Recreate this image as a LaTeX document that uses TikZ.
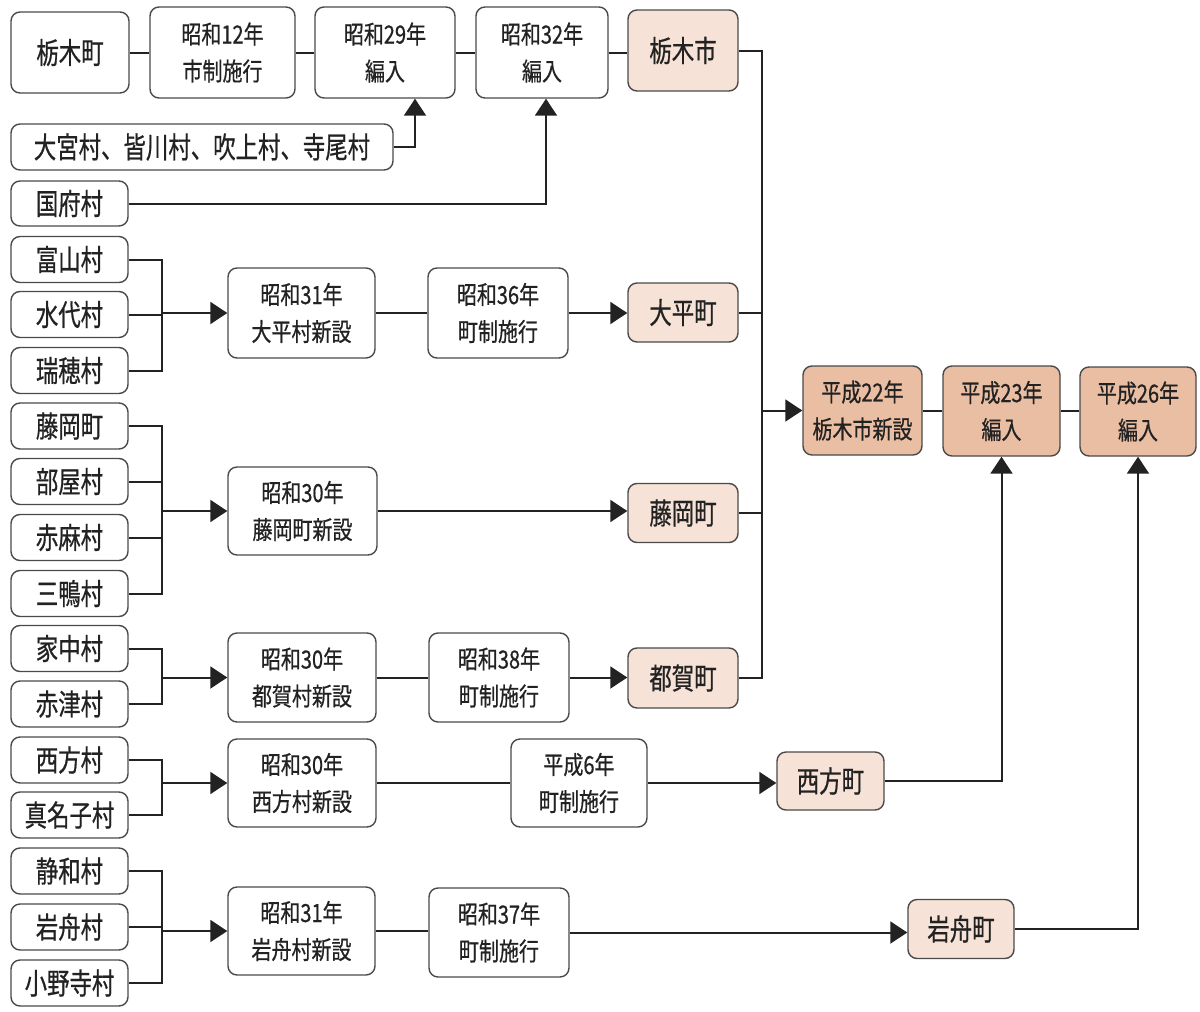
\documentclass[tikz,border=0pt]{standalone}
\usepackage{fontspec}
\newfontfamily\jpa[FakeStretch=0.76,FakeBold=0.6]{Noto Sans CJK JP}
\newfontfamily\jpb[FakeStretch=0.8,FakeBold=0.6]{Noto Sans CJK JP}
\usetikzlibrary{arrows.meta}
\definecolor{lightpk}{HTML}{F6E2D6}
\definecolor{darkpk}{HTML}{E9BEA3}
\definecolor{edge}{HTML}{4A4A4A}
\definecolor{ink}{HTML}{222222}
\begin{document}
\begin{tikzpicture}[x=1pt,y=-1pt,
 base/.style={draw=edge, line width=1.4pt, rounded corners=9pt, text=ink, inner sep=0pt, align=center},
 one/.style={base, font={\jpa\fontsize{29.5}{32}\selectfont}},
 two/.style={base, font={\jpb\fontsize{25}{37}\selectfont}},
 wbox/.style={fill=white},
 lbox/.style={fill=lightpk},
 dbox/.style={fill=darkpk},
 vil/.style={one, wbox, minimum width=117pt, minimum height=46pt},
 con/.style={draw=ink, line width=2pt},
 arr/.style={con, -{Triangle[length=17pt,width=22pt]}},
 sz/.style 2 args={minimum width=#1pt, minimum height=#2pt},
]
\useasboundingbox (0,0) rectangle (1200,1012);
% top row
\node[one,wbox,sz={118}{81}] (a1) at (70,52.5) {栃木町};
\node[two,wbox,sz={145}{91}] (b1) at (222.5,52.5) {昭和12年\\市制施行};
\node[two,wbox,sz={140}{91}] (b2) at (385,52.5) {昭和29年\\編入};
\node[two,wbox,sz={132}{91}] (b3) at (542,52.5) {昭和32年\\編入};
\node[one,lbox,sz={110}{81}] (r1) at (683,50.5) {栃木市};
\node[one,wbox,sz={382}{46}] (o1) at (202,147) {大宮村、皆川村、吹上村、寺尾村};
\node[one,wbox,sz={117}{45}] (o2) at (69.5,203.5) {国府村};
% villages
\node[vil] (t1) at (69.5,259.5) {富山村};
\node[vil] (t2) at (69.5,314.5) {水代村};
\node[vil] (t3) at (69.5,370.5) {瑞穂村};
\node[vil] (f1) at (69.5,426) {藤岡町};
\node[vil] (f2) at (69.5,481.5) {部屋村};
\node[vil] (f3) at (69.5,537.5) {赤麻村};
\node[vil] (f4) at (69.5,593.5) {三鴨村};
\node[vil] (g1) at (69.5,648.5) {家中村};
\node[vil] (g2) at (69.5,704) {赤津村};
\node[vil] (n1) at (69.5,760) {西方村};
\node[vil] (n2) at (69.5,815) {真名子村};
\node[vil] (i1) at (69.5,871) {静和村};
\node[vil] (i2) at (69.5,927) {岩舟村};
\node[vil] (i3) at (69.5,983) {小野寺村};
% chains
\node[two,wbox,sz={147}{90}] (c1) at (301.5,313) {昭和31年\\大平村新設};
\node[two,wbox,sz={140}{90}] (c2) at (498,313) {昭和36年\\町制施行};
\node[one,lbox,sz={110}{59}] (r2) at (683,312.5) {大平町};
\node[two,wbox,sz={149}{88}] (d1) at (302.5,511) {昭和30年\\藤岡町新設};
\node[one,lbox,sz={110}{59}] (r3) at (683,513) {藤岡町};
\node[two,wbox,sz={148}{89}] (e1) at (302,677.5) {昭和30年\\都賀村新設};
\node[two,wbox,sz={140}{89}] (e2) at (499,677.5) {昭和38年\\町制施行};
\node[one,lbox,sz={110}{60}] (r4) at (683,678) {都賀町};
\node[two,wbox,sz={148}{88}] (w1) at (302,783) {昭和30年\\西方村新設};
\node[two,wbox,sz={136}{88}] (w2) at (579,783) {平成6年\\町制施行};
\node[one,lbox,sz={107}{58}] (r5) at (830.5,781) {西方町};
\node[two,wbox,sz={147}{88}] (k1) at (301.5,931) {昭和31年\\岩舟村新設};
\node[two,wbox,sz={140}{89}] (k2) at (499,932.5) {昭和37年\\町制施行};
\node[one,lbox,sz={106}{59}] (r6) at (961,929) {岩舟町};
\node[two,dbox,sz={119}{89}] (h1) at (862.5,410.5) {平成22年\\栃木市新設};
\node[two,dbox,sz={117}{90}] (h2) at (1001.5,411) {平成23年\\編入};
\node[two,dbox,sz={116}{89}] (h3) at (1138,411.5) {平成26年\\編入};
% helper coordinates
\coordinate (bx) at (162,0);
\coordinate (jx) at (762,0);
% top connectors
\draw[con] (a1.east) -- (b1.west);
\draw[con] (b1.east) -- (b2.west);
\draw[con] (b2.east) -- (b3.west);
\draw[con] (b3.east) -- (b3.east -| r1.west);
\draw[arr] (o1.east) -| ([xshift=30pt]b2.south);
\draw[arr] (o2.east) -| ([xshift=4pt]b3.south);
% brackets
\draw[con] (t1.east) -- (t1.east -| bx) -- (t3.east -| bx) -- (t3.east);
\draw[con] (t2.east) -- (t2.east -| bx);
\draw[arr] (c1.west -| bx) -- (c1.west);
\draw[con] (f1.east) -- (f1.east -| bx) -- (f4.east -| bx) -- (f4.east);
\draw[con] (f2.east) -- (f2.east -| bx);
\draw[con] (f3.east) -- (f3.east -| bx);
\draw[arr] (d1.west -| bx) -- (d1.west);
\draw[con] (g1.east) -- (g1.east -| bx) -- (g2.east -| bx) -- (g2.east);
\draw[arr] (e1.west -| bx) -- (e1.west);
\draw[con] (n1.east) -- (n1.east -| bx) -- (n2.east -| bx) -- (n2.east);
\draw[arr] (w1.west -| bx) -- (w1.west);
\draw[con] (i1.east) -- (i1.east -| bx) -- (i3.east -| bx) -- (i3.east);
\draw[con] (i2.east) -- (i2.east -| bx);
\draw[arr] (k1.west -| bx) -- (k1.west);
% chains
\draw[con] (c1.east) -- (c2.west);
\draw[arr] (c2.east) -- (c2.east -| r2.west);
\draw[arr] (d1.east) -- (d1.east -| r3.west);
\draw[con] (e1.east) -- (e2.west);
\draw[arr] (e2.east) -- (e2.east -| r4.west);
\draw[con] (w1.east) -- (w2.west);
\draw[arr] (w2.east) -- (w2.east -| r5.west);
\draw[con] (k1.east) -- (k1.east -| k2.west);
\draw[arr] (k2.east) -- (k2.east -| r6.west);
% junction
\draw[con] (r1.east) -- (r1.east -| jx) -- (r4.east -| jx) -- (r4.east);
\draw[con] (r2.east) -- (r2.east -| jx);
\draw[con] (r3.east) -- (r3.east -| jx);
\draw[arr] (h1.west -| jx) -- (h1.west);
\draw[con] (h1.east) -- (h1.east -| h2.west);
\draw[con] (h2.east) -- (h2.east -| h3.west);
\draw[arr] (r5.east) -| (h2.south);
\draw[arr] (r6.east) -| (h3.south);
\end{tikzpicture}
\end{document}
